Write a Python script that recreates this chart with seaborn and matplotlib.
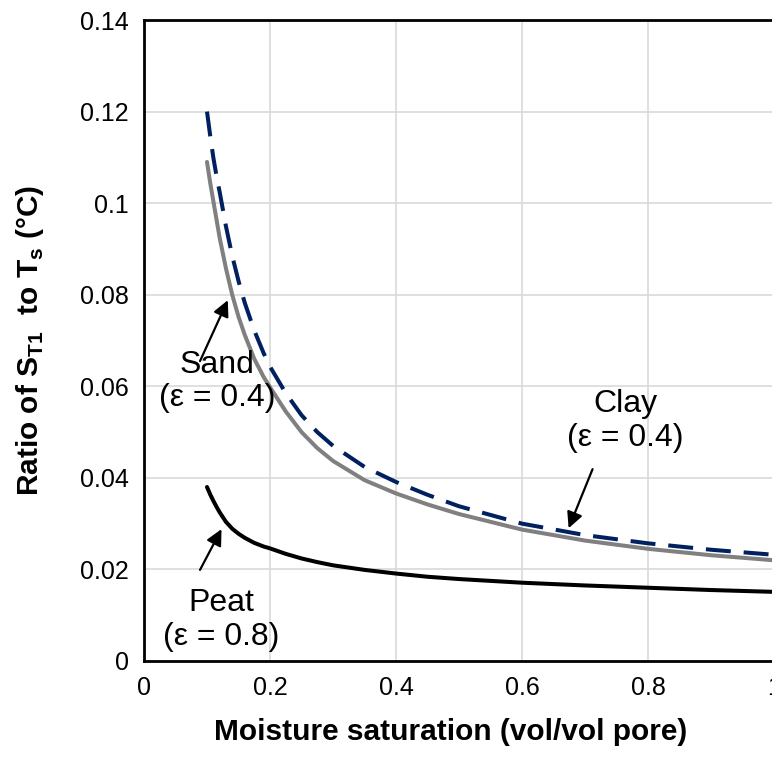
import matplotlib
matplotlib.use("Agg")
import matplotlib.pyplot as plt
import seaborn as sns
import pandas as pd

# Data
saturation = [0.10, 0.105, 0.11, 0.115, 0.12, 0.13, 0.14, 0.15, 0.16, 0.175,
              0.19, 0.20, 0.225, 0.25, 0.275, 0.30, 0.35, 0.40, 0.45, 0.50,
              0.60, 0.70, 0.80, 0.90, 1.00]
clay = [0.1200, 0.1148, 0.1100, 0.1060, 0.1025, 0.0950, 0.0885, 0.0830, 0.0782, 0.0722,
        0.0672, 0.0643, 0.0585, 0.0537, 0.0500, 0.0470, 0.0424, 0.0391, 0.0363, 0.0338,
        0.0300, 0.0275, 0.0257, 0.0243, 0.0232]
sand = [0.1090, 0.1045, 0.1005, 0.0965, 0.0925, 0.0858, 0.0800, 0.0752, 0.0712, 0.0660,
        0.0620, 0.0598, 0.0545, 0.0500, 0.0465, 0.0437, 0.0395, 0.0366, 0.0342, 0.0321,
        0.0287, 0.0263, 0.0245, 0.0231, 0.0220]
peat = [0.0380, 0.0364, 0.0350, 0.0337, 0.0325, 0.0304, 0.0289, 0.0278, 0.0269, 0.0258,
        0.0250, 0.0246, 0.0234, 0.0224, 0.0216, 0.0209, 0.0199, 0.0191, 0.0184, 0.0179,
        0.0171, 0.0165, 0.0160, 0.0155, 0.0151]

x_ticks = [0, 0.2, 0.4, 0.6, 0.8, 1.0]
x_tick_labels = ["0", "0.2", "0.4", "0.6", "0.8", "1"]
y_ticks = [0, 0.02, 0.04, 0.06, 0.08, 0.10, 0.12, 0.14]
y_tick_labels = ["0", "0.02", "0.04", "0.06", "0.08", "0.1", "0.12", "0.14"]

sns.set_style("white")
plt.rcParams["font.family"] = ["Liberation Sans", "DejaVu Sans"]
plt.rcParams["text.color"] = "black"
plt.rcParams["axes.labelcolor"] = "black"

df = pd.DataFrame({"x": saturation, "clay": clay, "sand": sand, "peat": peat})

fig = plt.figure(figsize=(7.72, 7.67), dpi=100)
ax = fig.add_axes([144 / 772, 106 / 767, 630 / 772, 641 / 767])

sns.lineplot(data=df, x="x", y="peat", ax=ax, color="black", lw=2.9)
sns.lineplot(data=df, x="x", y="sand", ax=ax, color="#808080", lw=2.9)
sns.lineplot(data=df, x="x", y="clay", ax=ax, color="#002060", lw=2.9)
clay_line = ax.lines[-1]
clay_line.set_dashes([6.2, 3.2])
clay_line.set_dash_capstyle("butt")

ax.set_xlim(0, 1)
ax.set_ylim(0, 0.14)
ax.set_xticks(x_ticks)
ax.set_xticklabels(x_tick_labels)
ax.set_yticks(y_ticks)
ax.set_yticklabels(y_tick_labels)
ax.tick_params(axis="both", direction="out", length=6, width=1.2, color="black",
               labelsize=18, labelcolor="black", pad=5)
ax.grid(True, color="#d9d9d9", lw=1.2)
ax.set_axisbelow(True)
for side in ["left", "bottom", "top"]:
    ax.spines[side].set_visible(True)
    ax.spines[side].set_color("black")
    ax.spines[side].set_linewidth(2.0)
ax.spines["right"].set_visible(False)

ax.set_xlabel("Moisture saturation (vol/vol pore)", fontsize=21.5, fontweight="bold",
              color="black")
ax.set_ylabel(r"Ratio of S$_{\mathregular{T1}}$  to T$_{\mathregular{s}}$ (°C)",
              fontsize=21.5, fontweight="bold", color="black")
ax.xaxis.set_label_coords(0.486, -0.11)
ax.xaxis.label.set_va("center")
ax.yaxis.set_label_coords(-0.181, 0.5)
ax.yaxis.label.set_va("center")

arrow = dict(arrowstyle="-|>", color="black", lw=1.6, mutation_scale=24,
             shrinkA=0, shrinkB=0)
ax.annotate("", xy=(0.133, 0.0788), xytext=(0.0889, 0.0655), arrowprops=arrow)
ax.text(0.116, 0.061, "Sand\n(ε = 0.4)", ha="center", va="center", fontsize=23,
        linespacing=1.15, color="black")
ax.annotate("", xy=(0.674, 0.0290), xytext=(0.712, 0.0419), arrowprops=arrow)
ax.text(0.764, 0.0524, "Clay\n(ε = 0.4)", ha="center", va="center", fontsize=23,
        linespacing=1.15, color="black")
ax.annotate("", xy=(0.123, 0.0288), xytext=(0.0889, 0.0199), arrowprops=arrow)
ax.text(0.123, 0.00895, "Peat\n(ε = 0.8)", ha="center", va="center", fontsize=23,
        linespacing=1.15, color="black")

fig.savefig("out.png", dpi=100)
